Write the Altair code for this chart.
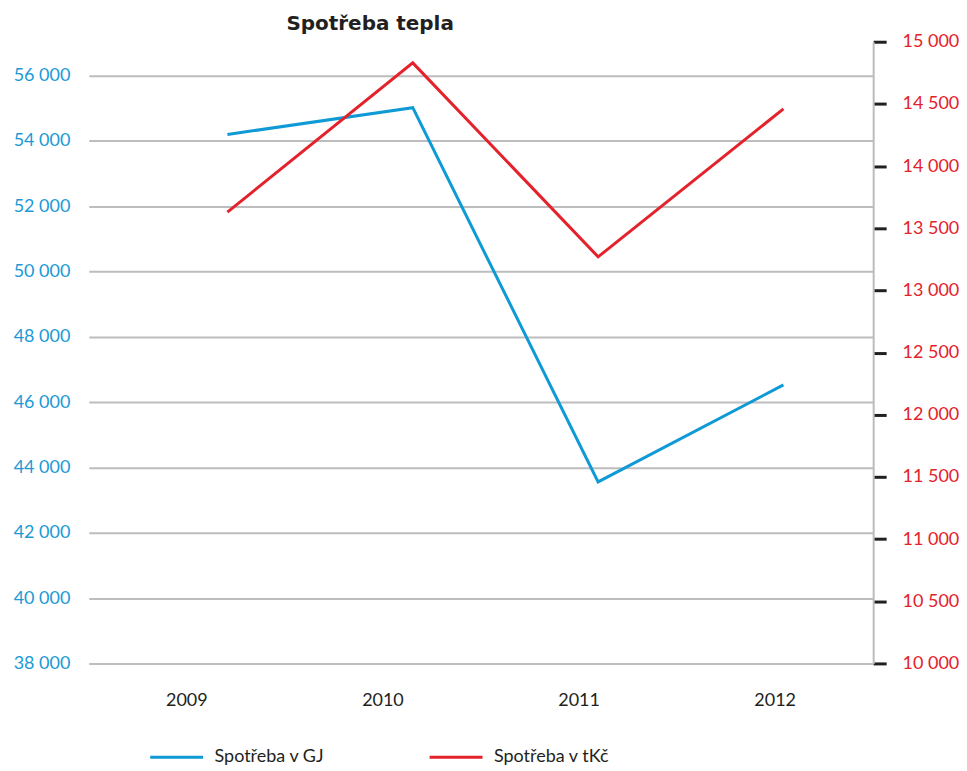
import altair as alt
import pandas as pd

years = ["2009", "2010", "2011", "2012"]
gj = [54200, 55020, 43560, 46530]
tkc = [13630, 14830, 13270, 14460]
series_names = ["Spotřeba v GJ", "Spotřeba v tKč"]
series_colors = ["#0f9ad6", "#e4222b"]
left_ticks = list(range(38000, 56001, 2000))
right_ticks = list(range(10000, 15001, 500))

df = pd.DataFrame({"year": years, "gj": gj, "tkc": tkc})

FONT = "Lato"
DARK = "#231f20"
fmt = "replace(format(datum.value, ','), ',', ' ')"

color = alt.Color(
    "series:N",
    scale=alt.Scale(domain=series_names, range=series_colors),
    legend=alt.Legend(
        orient="none", legendX=60, legendY=689, direction="horizontal",
        title=None, symbolType="stroke", symbolSize=2809, symbolStrokeWidth=3,
        labelFontSize=18, labelColor=DARK, labelOffset=10, columnPadding=98,
        padding=0, labelFont=FONT,
    ),
)

xline = alt.X("year:O", scale=alt.Scale(type="point", padding=0.616, align=0.607), axis=None)

blue = alt.Chart(df).transform_calculate(series="'Spotřeba v GJ'").mark_line(strokeWidth=3).encode(
    x=xline,
    y=alt.Y(
        "gj:Q",
        scale=alt.Scale(domain=[38000, 57040], nice=False, zero=False),
        axis=alt.Axis(
            values=left_ticks, labelExpr=fmt, orient="left", grid=True,
            gridColor="#bdbdc0", gridWidth=2, domain=False, domainOpacity=0,
            ticks=False, labelColor="#1b9ad6", labelFontSize=18, labelPadding=19,
            minExtent=78, maxExtent=78, title=None, labelFont=FONT,
        ),
    ),
    color=color,
)

red = alt.Chart(df).transform_calculate(series="'Spotřeba v tKč'").mark_line(strokeWidth=3).encode(
    x=xline,
    y=alt.Y(
        "tkc:Q",
        scale=alt.Scale(domain=[10000, 15000], nice=False, zero=False),
        axis=alt.Axis(
            values=right_ticks, labelExpr=fmt, orient="right", grid=False,
            domain=True, domainColor="#bcbcbf", domainWidth=2,
            ticks=True, tickColor=DARK, tickWidth=3, tickSize=13,
            labelColor="#e4222b", labelFontSize=18, labelPadding=16,
            title=None, labelFont=FONT,
        ),
    ),
    color=color,
)

xlab = alt.Chart(df).mark_text(opacity=0, text="").encode(
    x=alt.X(
        "year:O",
        scale=alt.Scale(type="band", paddingInner=0, paddingOuter=0),
        axis=alt.Axis(
            orient="bottom", domain=False, domainOpacity=0, ticks=False,
            grid=False, labelFontSize=18, labelColor=DARK, labelPadding=28,
            labelAngle=0, title=None, labelFont=FONT,
        ),
    )
)

chart = (
    alt.layer(blue, red, xlab, view=alt.ViewBackground(strokeOpacity=0))
    .resolve_scale(y="independent", x="independent")
    .properties(
        width=786,
        height=623,
        padding={"left": 3, "top": 5, "right": 0, "bottom": 0},
        title=alt.TitleParams(
            "Spotřeba tepla", anchor="start", frame="group", dx=198,
            fontSize=20, fontWeight="bold", color=DARK, offset=-1,
            font="DejaVu Sans",
        ),
    )
    .configure_view(stroke="transparent", strokeWidth=0, strokeOpacity=0)
    .configure_axis(domain=False)
    .configure(font=FONT)
)

chart.save("out.html", embed_options={"renderer": "svg", "actions": False})
